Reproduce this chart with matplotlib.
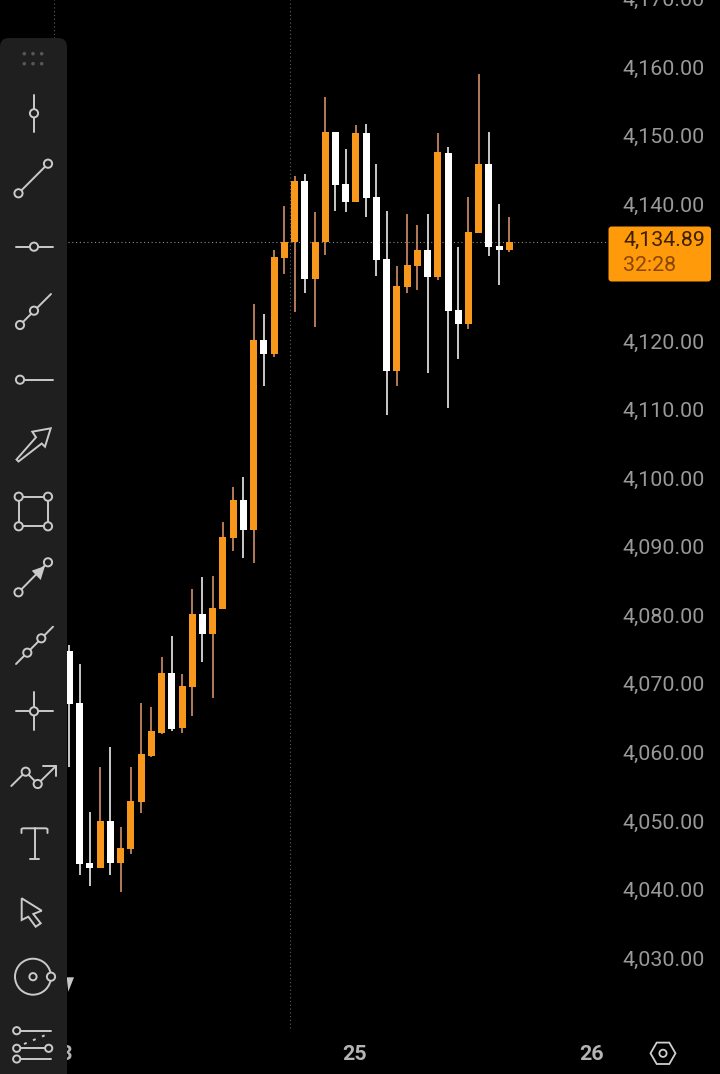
import matplotlib
matplotlib.use("Agg")
import matplotlib.pyplot as plt
from matplotlib.patches import FancyBboxPatch, Polygon, Circle
from matplotlib.transforms import ScaledTranslation

plt.rcParams['font.family'] = ['Roboto', 'DejaVu Sans']

opens = [4075.17, 4067.54, 4044.24, 4043.47, 4050.32, 4044.19, 4046.24, 4053.09, 4059.89, 4063.25, 4071.92,
         4063.89, 4069.92, 4080.57, 4077.61, 4081.25, 4091.61, 4097.16, 4092.78, 4120.54, 4118.46, 4132.51,
         4134.89, 4143.74, 4129.44, 4134.89, 4150.85, 4143.26, 4140.68, 4150.7, 4141.36, 4132.32, 4116.02,
         4128.23, 4131.34, 4133.63, 4129.69, 4147.83, 4124.92, 4122.83, 4136.11, 4146.22, 4134.26, 4133.63]
closes = [4067.39, 4044.05, 4043.47, 4050.32, 4044.24, 4046.38, 4053.24, 4060.10, 4063.45, 4071.92, 4063.83,
          4070.02, 4080.57, 4077.61, 4081.40, 4091.76, 4097.16, 4092.78, 4120.54, 4118.46, 4132.65, 4134.89,
          4143.74, 4129.44, 4134.89, 4150.85, 4143.16, 4140.68, 4150.70, 4141.26, 4132.22, 4116.02, 4128.42,
          4131.44, 4133.63, 4129.69, 4147.93, 4124.78, 4122.83, 4136.26, 4146.22, 4134.11, 4133.63, 4134.89]
highs = [4076.05, 4073.27, 4051.64, 4058.20, 4061.21, 4049.53, 4058.20, 4067.54, 4066.96, 4074.25, 4077.36,
         4071.77, 4084.17, 4085.92, 4086.07, 4093.95, 4099.05, 4100.51, 4125.75, 4124.29, 4133.67, 4140.05,
         4144.47, 4144.72, 4139.18, 4155.95, 4150.85, 4148.37, 4151.87, 4152.06, 4146.22, 4139.32, 4131.34,
         4138.93, 4137.28, 4138.93, 4150.70, 4148.66, 4134.11, 4141.36, 4159.35, 4150.89, 4140.34, 4138.49]
lows = [4058.29, 4042.44, 4040.88, 4043.47, 4042.44, 4040.01, 4045.55, 4051.49, 4059.66, 4063.02, 4063.50,
        4063.21, 4065.69, 4073.61, 4068.27, 4081.25, 4089.72, 4088.70, 4088.01, 4113.83, 4118.02, 4130.17,
        4124.59, 4127.40, 4122.48, 4132.95, 4139.32, 4139.22, 4140.68, 4138.49, 4129.88, 4109.60, 4113.88,
        4127.45, 4127.84, 4115.69, 4129.30, 4110.58, 4117.73, 4122.15, 4136.11, 4132.80, 4128.53, 4133.38]

price_ticks = [4030, 4040, 4050, 4060, 4070, 4080, 4090, 4100, 4110, 4120, 4140, 4150, 4160, 4170]
day_positions = [-0.9, 27.9, 51.0]
day_labels = ['23', '25', '26']
last_price = 4134.89
last_price_label = '4,134.89'
countdown_label = '32:28'

W, H = 720, 1074
PLOT_R = 608
fig = plt.figure(figsize=(W / 100, H / 100), dpi=100, facecolor='black')
ax = fig.add_axes([0, 0, PLOT_R / W, 1], facecolor='black')
for s in ax.spines.values():
    s.set_visible(False)

STEP = 10.23
ax.set_xlim(-69.5 / STEP, (PLOT_R - 69.5) / STEP)
ax.set_ylim(4170.15 - H * 0.1459, 4170.15)

ORANGE = '#f7981d'
WICK_ORANGE = '#e59c70'
for i, (o, c, hi, lo) in enumerate(zip(opens, closes, highs, lows)):
    up = c >= o
    body = ORANGE if up else '#ffffff'
    wick = WICK_ORANGE if up else '#ffffff'
    ax.vlines(i, lo, hi, color=wick, lw=1.1, zorder=3)
    ax.bar(i, abs(c - o), bottom=min(o, c), width=7.0 / STEP, color=body, lw=0, zorder=4)

# crosshair / price lines
ax.hlines(last_price, 68 / STEP - 69.5 / STEP, ax.get_xlim()[1], color='#8f8f7a', lw=0.8,
          linestyles=(0, (1, 2.4)), zorder=2)
for cx in [21.55, -1.5]:
    ax.vlines(cx, 4170.15 - 1028 * 0.1459, 4170.15, color='#5f5f5f', lw=0.8,
              linestyles=(0, (1, 2.4)), zorder=2)

ax.yaxis.tick_right()
ax.set_yticks(price_ticks)
ax.set_yticklabels([f'{v:,.2f}' for v in price_ticks], color='#999999', fontsize=15.4)
ax.tick_params(axis='y', length=0, pad=10.5)
shift = ScaledTranslation(0, 2.6 / 100, fig.dpi_scale_trans)
for t in ax.yaxis.get_major_ticks():
    t.label2.set_transform(t.label2.get_transform() + shift)

ax.set_xticks(day_positions)
ax.set_xticklabels(day_labels, color='#b4b4b4', fontsize=15.4, fontweight='bold')
ax.tick_params(axis='x', length=0, pad=-21)

# overlay in pixel coordinates: toolbar, price box, settings button
ov = fig.add_axes([0, 0, 1, 1], facecolor='none')
ov.set_xlim(0, W)
ov.set_ylim(H, 0)
ov.axis('off')

LC = '#cacaca'
BG = '#1f1f1f'
LW = 1.4

ov.add_patch(Polygon([(66.7, 977.3), (74, 977.3), (68.3, 991.7)], fc='#c8c8c8', ec='none'))
ov.add_patch(FancyBboxPatch((0, 38), 67, 1100, boxstyle='round,pad=0,rounding_size=9',
                            fc=BG, ec='none', zorder=1, clip_on=True))

def line(pts, **kw):
    xs, ys = zip(*pts)
    kw.setdefault('lw', LW)
    ov.plot(xs, ys, color=kw.pop('color', LC), solid_capstyle='round', zorder=2, **kw)

def ring(x, y, r=4.1):
    ov.add_patch(Circle((x, y), r, fc=BG, ec=LC, lw=LW, zorder=3))

for dx in (24.3, 33, 41.7):
    for dy in (53.7, 63.7):
        ov.add_patch(Circle((dx, dy), 1.8, fc='#565656', ec='none', zorder=2))

line([(34, 95), (34, 131.7)]); ring(34, 113.3)
line([(18.5, 193.3), (48, 163.7)]); ring(18.5, 193.3); ring(48, 163.7)
line([(16, 246.7), (53, 246.7)]); ring(34, 246.7)
line([(20, 325), (51, 294)]); ring(20, 325); ring(34, 310.7)
line([(20, 379.7), (53, 379.7)]); ring(20, 379.7)
ov.add_patch(Polygon([(50.7, 428.3), (32.3, 431.7), (36, 437.3), (16.5, 459.5), (18.5, 461.5),
                      (41.7, 443.5), (45, 446.7)], fc='none', ec=LC, lw=LW, zorder=2))
line([(18.7, 496.7), (48, 496.7), (48, 526.3), (18.7, 526.3), (18.7, 496.7)])
for p in [(18.7, 496.7), (48, 496.7), (18.7, 526.3), (48, 526.3)]:
    ring(*p)
line([(18.5, 592.3), (48, 562.3)]); ring(18.5, 592.3); ring(48, 562.3)
ov.add_patch(Polygon([(45, 566), (31.7, 570.7), (40.7, 580)], fc=LC, ec='none', zorder=3))
line([(16, 664), (53, 626.7)]); ring(27.3, 652.7); ring(41.3, 638.3)
line([(34, 691.7), (34, 730)]); line([(16, 711.3), (53, 711.3)]); ring(34, 711.3)
line([(11.3, 786), (25.7, 771.7), (37.7, 784), (56, 766)]); ring(25.7, 771.7); ring(37.7, 784)
line([(43, 766), (56, 766), (56, 776)])
line([(21.5, 833), (21.5, 829), (23, 828.3), (46, 828.3), (47.5, 829), (47.5, 833)])
line([(34.5, 828.3), (34.5, 859)]); line([(30, 859), (39, 859)])
ov.add_patch(Polygon([(21.7, 898.3), (41.7, 910.7), (33.3, 914), (40.7, 923.3), (35.7, 926.7),
                      (28.3, 916.7), (21.7, 920)], fc='none', ec=LC, lw=LW, zorder=2))
ov.add_patch(Circle((33, 976.7), 18, fc='none', ec=LC, lw=LW, zorder=2))
ring(33, 976.7, 3.6); ring(51, 976.7, 4.1)
line([(16.7, 1030.7), (51, 1030.7)]); line([(16.7, 1048.3), (48.7, 1048.3)]); line([(16.7, 1059), (51, 1059)])
ring(16.7, 1030.7, 3.6); ring(16.7, 1048.3, 3.6); ring(48.7, 1048.3, 3.6); ring(16.7, 1059, 3.6)
ov.plot([24, 48], [1044, 1034], color=LC, lw=LW, linestyle=(0, (1.5, 3.5)), zorder=2)

# last price box
ov.add_patch(FancyBboxPatch((610, 228), 99.5, 52, boxstyle='round,pad=1.5,rounding_size=3',
                            fc='#ff9a0a', ec='none', zorder=4))
ov.text(623, 240.5, last_price_label, color='#3d2000', fontsize=15.4, va='center', ha='left', zorder=5)
ov.text(623, 265.5, countdown_label, color='#8a4504', fontsize=15.4, va='center', ha='left', zorder=5)

# settings button
hex_pts = [(650.5, 1053.3), (656.7, 1042.6), (669.3, 1042.6), (675.5, 1053.3), (669.3, 1064), (656.7, 1064)]
ov.add_patch(Polygon(hex_pts, fc='none', ec='#cfcfcf', lw=1.3, zorder=2))
ov.add_patch(Circle((663, 1053.3), 3.6, fc='none', ec='#cfcfcf', lw=1.3, zorder=2))

fig.savefig('out.png', dpi=100, facecolor='black')
